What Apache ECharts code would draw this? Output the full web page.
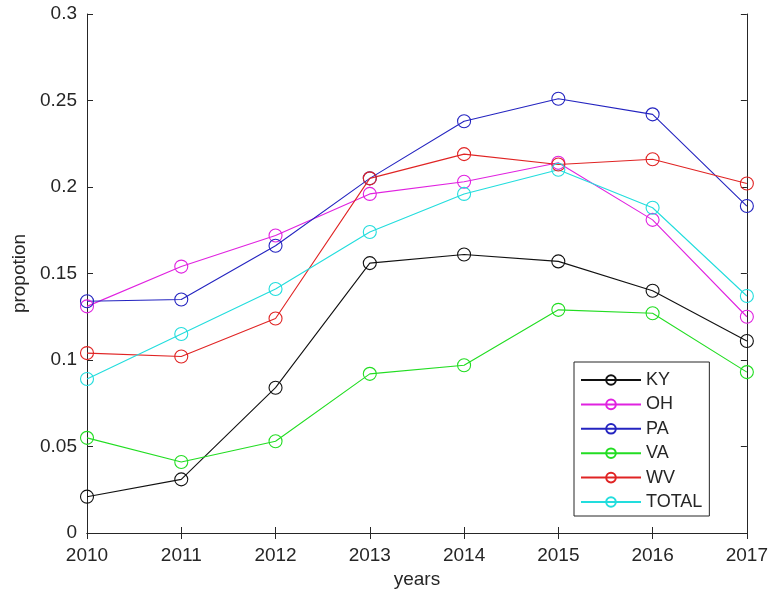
<!DOCTYPE html>
<html>
<head>
<meta charset="utf-8">
<script src="https://cdn.jsdelivr.net/npm/echarts@6/dist/echarts.min.js"></script>
<style>
html,body{margin:0;padding:0;background:#fff;}
#chart{width:771px;height:600px;}
</style>
</head>
<body>
<div id="chart"></div>
<script>
// Share by state, 2010-2017
const years = ['2010','2011','2012','2013','2014','2015','2016','2017'];
const yTicks = [0, 0.05, 0.1, 0.15, 0.2, 0.25, 0.3];

const KY    = [0.021, 0.031, 0.084, 0.156, 0.161, 0.157, 0.140, 0.111];
const OH    = [0.131, 0.154, 0.172, 0.196, 0.203, 0.214, 0.181, 0.125];
const PA    = [0.134, 0.135, 0.166, 0.205, 0.238, 0.251, 0.242, 0.189];
const VA    = [0.055, 0.041, 0.053, 0.092, 0.097, 0.129, 0.127, 0.093];
const WV    = [0.104, 0.102, 0.124, 0.205, 0.219, 0.213, 0.216, 0.202];
const TOTAL = [0.089, 0.115, 0.141, 0.174, 0.196, 0.210, 0.188, 0.137];

const seriesDefs = [
  { name: 'KY',    data: KY,    color: '#111111' },
  { name: 'OH',    data: OH,    color: '#e022e0' },
  { name: 'PA',    data: PA,    color: '#2424c0' },
  { name: 'VA',    data: VA,    color: '#22dd22' },
  { name: 'WV',    data: WV,    color: '#e02424' },
  { name: 'TOTAL', data: TOTAL, color: '#22dddd' }
];

const font = 'Liberation Sans, Arial, sans-serif';
const axisColor = '#262626';

const chart = echarts.init(document.getElementById('chart'));

const xBase = {
  type: 'category',
  data: years,
  boundaryGap: false,
  axisLine: { show: true, lineStyle: { color: axisColor, width: 1 } },
  axisTick: { show: true, inside: true, length: 6, alignWithLabel: true, lineStyle: { color: axisColor } },
  splitLine: { show: false }
};
const yBase = {
  type: 'value',
  min: yTicks[0],
  max: yTicks[yTicks.length - 1],
  interval: 0.05,
  axisLine: { show: true, lineStyle: { color: axisColor, width: 1 } },
  axisTick: { show: true, inside: true, length: 6, lineStyle: { color: axisColor } },
  splitLine: { show: false }
};

chart.setOption({
  animation: false,
  backgroundColor: '#ffffff',
  grid: { left: 87, right: 23, top: 14, bottom: 67, containLabel: false },
  xAxis: [
    Object.assign({}, xBase, {
      position: 'bottom',
      name: 'years',
      nameLocation: 'middle',
      nameGap: 37,
      nameTextStyle: { color: axisColor, fontSize: 19, fontFamily: font },
      axisLabel: { color: axisColor, fontSize: 19, fontFamily: font, margin: 13 }
    }),
    Object.assign({}, xBase, { position: 'top', axisLabel: { show: false } })
  ],
  yAxis: [
    Object.assign({}, yBase, {
      position: 'left',
      name: 'propotion',
      nameLocation: 'middle',
      nameGap: 56,
      nameRotate: 90,
      nameTextStyle: { color: axisColor, fontSize: 19, fontFamily: font },
      axisLabel: { color: axisColor, fontSize: 19, fontFamily: font, margin: 10 }
    }),
    Object.assign({}, yBase, { position: 'right', axisLabel: { show: false } })
  ],
  legend: {
    orient: 'vertical',
    left: 574,
    top: 362,
    padding: [9, 7, 5, 6],
    itemWidth: 60,
    itemHeight: 12,
    itemGap: 6.4,
    backgroundColor: '#ffffff',
    borderColor: '#262626',
    borderWidth: 1,
    borderRadius: 0,
    textStyle: { color: axisColor, fontSize: 18, lineHeight: 18, fontFamily: font },
    data: seriesDefs.map(s => s.name)
  },
  series: seriesDefs.map(s => ({
    name: s.name,
    type: 'line',
    data: s.data,
    symbol: 'circle',
    symbolSize: 13,
    showAllSymbol: true,
    color: s.color,
    lineStyle: { color: s.color, width: 1.1 },
    itemStyle: { color: 'rgba(255,255,255,0)', borderColor: s.color, borderWidth: 1.1 }
  }))
});
</script>
</body>
</html>
